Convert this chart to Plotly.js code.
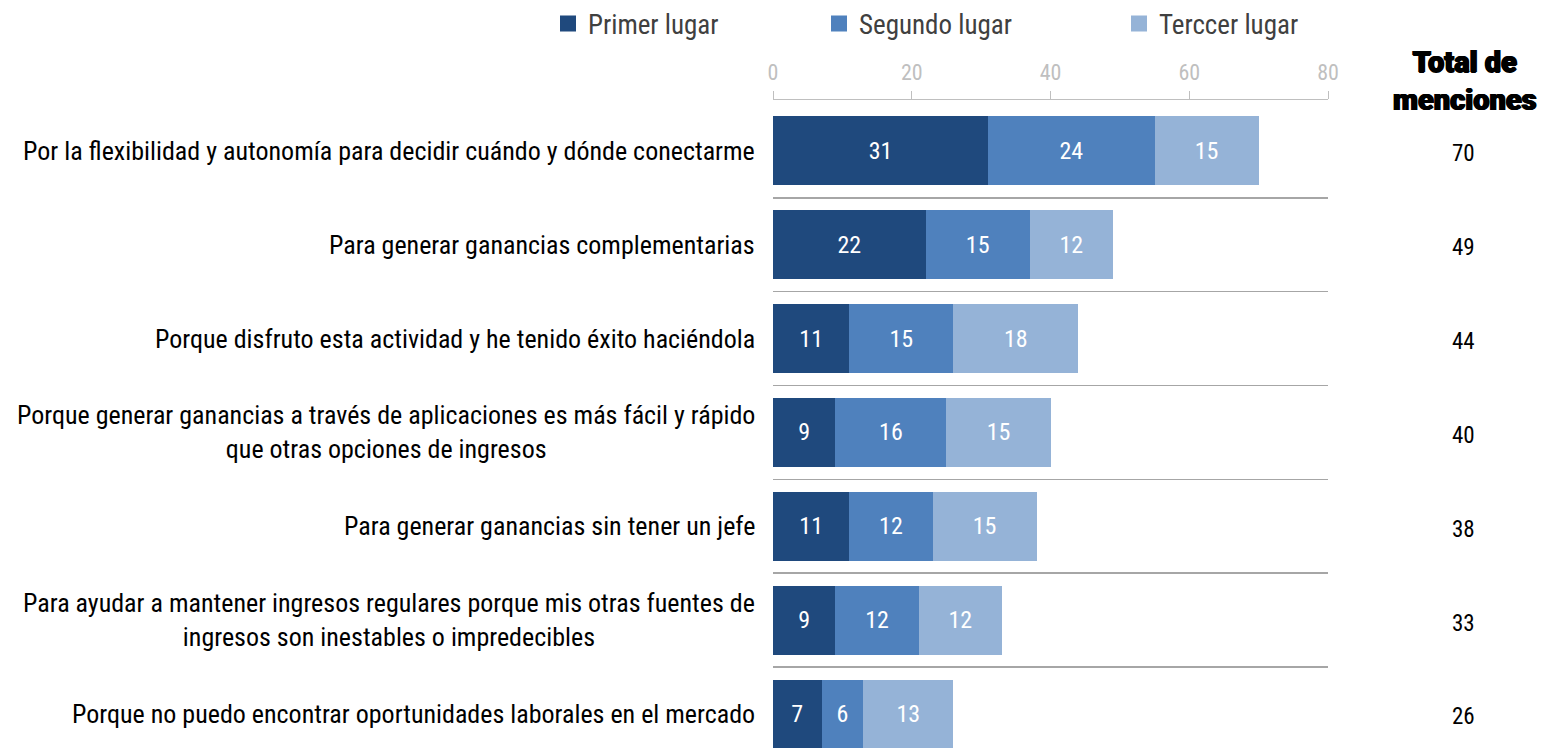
<!DOCTYPE html>
<html><head><meta charset="utf-8">
<script src="https://cdn.plot.ly/plotly-3.0.1.min.js"></script>
<style>html,body{margin:0;padding:0;background:#fff;}#chart{width:1541px;height:752px;}</style>
</head><body><div id="chart"></div>
<script>
const categories = [
  "Por la flexibilidad y autonomía para decidir cuándo y dónde conectarme",
  "Para generar ganancias complementarias",
  "Porque disfruto esta actividad y he tenido éxito haciéndola",
  "Porque generar ganancias a través de aplicaciones es más fácil y rápido<br>que otras opciones de ingresos",
  "Para generar ganancias sin tener un jefe",
  "Para ayudar a mantener ingresos regulares porque mis otras fuentes de<br>ingresos son inestables o impredecibles",
  "Porque no puedo encontrar oportunidades laborales en el mercado"
];
const primer = [31, 22, 11, 9, 11, 9, 7];
const segundo = [24, 15, 15, 16, 12, 12, 6];
const tercer = [15, 12, 18, 15, 15, 12, 13];
const totals = [70, 49, 44, 40, 38, 33, 26];
const seriesNames = ["Primer lugar", "Segundo lugar", "Terccer lugar"];
const xTicks = [0, 20, 40, 60, 80];
const totalHeader = "Total de<br>menciones";

const FONT = "'Roboto Condensed', 'Liberation Sans Narrow', 'Arial Narrow', Roboto, sans-serif";
const colors = ["#1f497d", "#4f81bd", "#95b3d7"];
const yIdx = categories.map((_, i) => i);
const seriesVals = [primer, segundo, tercer];
const legendIds = ["legend", "legend2", "legend3"];

const traces = seriesVals.map((vals, k) => ({
  type: "bar", orientation: "h", name: seriesNames[k],
  x: vals, y: yIdx, width: 0.735,
  marker: {color: colors[k], line: {width: 0}},
  text: vals.map(String), textposition: "inside", insidetextanchor: "middle",
  textfont: {family: FONT, size: 24, color: "#ffffff"},
  showlegend: false, hoverinfo: "x+name"
}));
// legend entries (square swatches) for the three series
seriesNames.forEach((n, k) => {
  traces.push({type: "scatter", mode: "markers", name: n, x: [null], y: [null],
    marker: {symbol: "square", size: 16, color: colors[k], line: {width: 0}},
    legend: legendIds[k], showlegend: true, hoverinfo: "skip"});
});

const annotations = [];
categories.forEach((c, i) => {
  annotations.push({xref: "paper", x: 0, xshift: -16, xanchor: "right", yref: "y", y: i, yanchor: "middle",
    text: c, align: "center", showarrow: false, font: {family: FONT, size: 26, color: "#000"}});
  annotations.push({xref: "paper", x: 1, xshift: 135, yshift: -3, xanchor: "center", yref: "y", y: i, yanchor: "middle",
    text: String(totals[i]), showarrow: false, font: {family: FONT, size: 23, color: "#000"}});
});
annotations.push({xref: "paper", x: 1, xshift: 137, xanchor: "center", yref: "paper", y: 1 + 19/652, yanchor: "middle",
  text: totalHeader, showarrow: false, align: "center",
  font: {family: "'Roboto Black', Roboto, 'DejaVu Sans', sans-serif", size: 29, weight: 900, color: "#000",
    shadow: "0.8px 0 0 #000, -0.8px 0 0 #000, 0 0.6px 0 #000"}});

const legendX = [548, 819, 1119];
const legendCommon = {orientation: "h", xref: "container", yref: "container", yanchor: "middle", xanchor: "left",
  font: {family: FONT, size: 27, color: "#404040"}, bgcolor: "rgba(0,0,0,0)", itemwidth: 30, tracegroupgap: 0};
const layout = {
  width: 1541, height: 752,
  margin: {l: 773, r: 213, t: 100, b: 0},
  paper_bgcolor: "#fff", plot_bgcolor: "#fff",
  barmode: "stack",
  showlegend: true,
  xaxis: {side: "top", range: [0, 80], tickvals: xTicks, ticks: "outside", ticklen: 8, tickwidth: 1, tickcolor: "#bfbfbf",
    showline: true, linecolor: "#bfbfbf", linewidth: 1, showgrid: false, zeroline: false,
    tickfont: {family: FONT, size: 22, color: "#bfbfbf"}, ticklabelstandoff: 2, fixedrange: true},
  yaxis: {range: [6.405, -0.543], tickvals: [0.5, 1.5, 2.5, 3.5, 4.5, 5.5], ticktext: ["", "", "", "", "", ""],
    showgrid: true, gridcolor: "#a6a6a6", gridwidth: 1.5, zeroline: false, showline: false, ticks: "", fixedrange: true},
  annotations: annotations
};
legendIds.forEach((id, k) => {
  layout[id] = Object.assign({}, legendCommon, {x: legendX[k] / 1541, y: 1 - 24/752});
});

Plotly.newPlot("chart", traces, layout, {displayModeBar: false, staticPlot: true});
</script></body></html>
